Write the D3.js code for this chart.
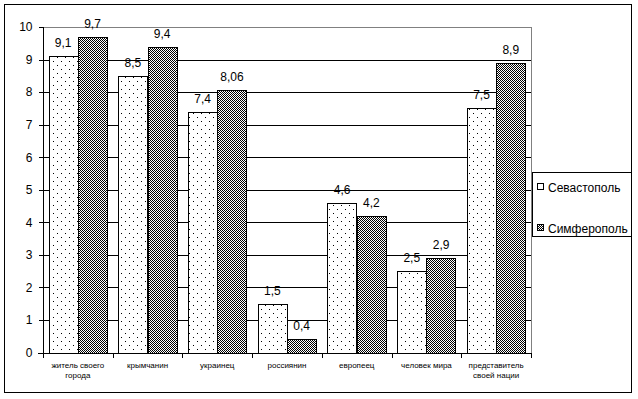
<!DOCTYPE html>
<html><head><meta charset="utf-8">
<script src="https://cdn.jsdelivr.net/npm/d3@7"></script>
<style>body{margin:0;background:#fff}svg{display:block}text{font-family:Arial,"Liberation Sans",sans-serif}</style>
</head><body>
<svg id="c" width="638" height="399"></svg>
<script>
const categories = [["житель своего","города"],["крымчанин"],["украинец"],["россиянин"],["европеец"],["человек мира"],["представитель","своей нации"]];
const series = ["Севастополь","Симферополь"];
const sevastopol = [9.1,8.5,7.4,1.5,4.6,2.5,7.5];
const simferopol = [9.7,9.4,8.06,0.4,4.2,2.9,8.9];
const yTicks = [0,1,2,3,4,5,6,7,8,9,10];

const svg = d3.select("#c");
const defs = svg.append("defs");
const p1 = defs.append("pattern").attr("id","dots").attr("width",8).attr("height",8).attr("patternUnits","userSpaceOnUse");
p1.append("rect").attr("width",8).attr("height",8).attr("fill","#fff");
p1.append("rect").attr("x",1).attr("y",1).attr("width",1).attr("height",1).attr("fill","#000");
p1.append("rect").attr("x",5).attr("y",5).attr("width",1).attr("height",1).attr("fill","#000");
const p2 = defs.append("pattern").attr("id","check").attr("width",2).attr("height",2).attr("patternUnits","userSpaceOnUse");
p2.append("rect").attr("width",2).attr("height",2).attr("fill","#fff");
p2.append("rect").attr("x",0).attr("y",0).attr("width",1).attr("height",1).attr("fill","#000");
p2.append("rect").attr("x",1).attr("y",1).attr("width",1).attr("height",1).attr("fill","#000");
const fills = ["url(#dots)","url(#check)"];

svg.append("rect").attr("x",4.5).attr("y",4.5).attr("width",627).attr("height",388).attr("fill","#fff").attr("stroke","#000");

const L=43, R=531, T=27, B=352.5;
const x0 = d3.scaleBand().domain(d3.range(categories.length)).range([L,R]).padding(0);
const x1 = d3.scaleBand().domain(series).range([0,x0.bandwidth()]).paddingInner(0).paddingOuter(0.19);
const y = d3.scaleLinear().domain([0,10]).range([B,T]);

const g = svg.append("g").attr("shape-rendering","crispEdges");
// gridlines
g.selectAll("line.grid").data(yTicks.filter(d=>d>0&&d<10)).join("line")
  .attr("x1",L).attr("x2",R).attr("y1",d=>Math.round(y(d))+0.5).attr("y2",d=>Math.round(y(d))+0.5).attr("stroke","#000");
// plot border gray
g.append("line").attr("x1",L).attr("x2",R+0.5).attr("y1",T+0.5).attr("y2",T+0.5).attr("stroke","#808080");
g.append("line").attr("x1",R+0.5).attr("x2",R+0.5).attr("y1",T).attr("y2",B).attr("stroke","#808080");

// bars
const data = [sevastopol, simferopol];
series.forEach((s,si)=>{
  g.selectAll("rect.b"+si).data(data[si]).join("rect")
    .attr("x",(d,i)=>Math.round(x0(i)+x1(s))+0.5)
    .attr("y",d=>Math.round(y(d))+0.5)
    .attr("width",Math.round(x1.bandwidth()))
    .attr("height",d=>Math.round(y(0))-Math.round(y(d)))
    .attr("fill",fills[si]).attr("stroke","#000");
  svg.selectAll("text.v"+si).data(data[si]).join("text")
    .attr("x",(d,i)=>x0(i)+x1(s)+x1.bandwidth()/2)
    .attr("y",d=>y(d)-9)
    .attr("text-anchor","middle").attr("font-size",12)
    .text(d=>String(d).replace(".",","));
});

// axes
const yAxis = d3.axisLeft(y).tickValues(yTicks).tickSize(5).tickFormat(d=>d);
const ya = svg.append("g").attr("transform",`translate(${L+0.5},0)`).call(yAxis);
ya.selectAll("text").attr("font-size",12).attr("font-family","Arial").attr("fill","#000").attr("x",-11);
ya.selectAll("line,path").attr("stroke","#000").attr("shape-rendering","crispEdges");
ya.select(".domain").attr("d",`M0,${T}V${B}`);

const xa = svg.append("g").attr("shape-rendering","crispEdges");
xa.append("line").attr("x1",L-5).attr("x2",R).attr("y1",Math.round(B)+0.5).attr("y2",Math.round(B)+0.5).attr("stroke","#000");
xa.selectAll("line.t").data(d3.range(categories.length+1)).join("line")
  .attr("x1",i=>Math.round(L+i*x0.step())+0.5).attr("x2",i=>Math.round(L+i*x0.step())+0.5)
  .attr("y1",B).attr("y2",B+5).attr("stroke","#000");
const cl = svg.selectAll("text.c").data(categories).join("text")
  .attr("text-anchor","middle").attr("font-size",8)
  .attr("x",(d,i)=>x0(i)+x0.bandwidth()/2).attr("y",367.5);
cl.selectAll("tspan").data(d=>d).join("tspan")
  .attr("x",function(){return this.parentNode.getAttribute("x");})
  .attr("dy",(d,i)=>i?10:0).text(d=>d);

// legend
const lg = svg.append("g");
lg.append("rect").attr("x",532.5).attr("y",172.5).attr("width",99).attr("height",64).attr("fill","#fff").attr("stroke","#000").attr("shape-rendering","crispEdges");
const ly = [187, 228];
series.forEach((s,i)=>{
  lg.append("rect").attr("x",537.5).attr("y",ly[i]-3.5).attr("width",6).attr("height",6).attr("fill",fills[i]).attr("stroke","#000").attr("shape-rendering","crispEdges");
  lg.append("text").attr("x",548).attr("y",ly[i]+4.5).attr("font-size",12).text(s);
});
</script>
</body></html>
